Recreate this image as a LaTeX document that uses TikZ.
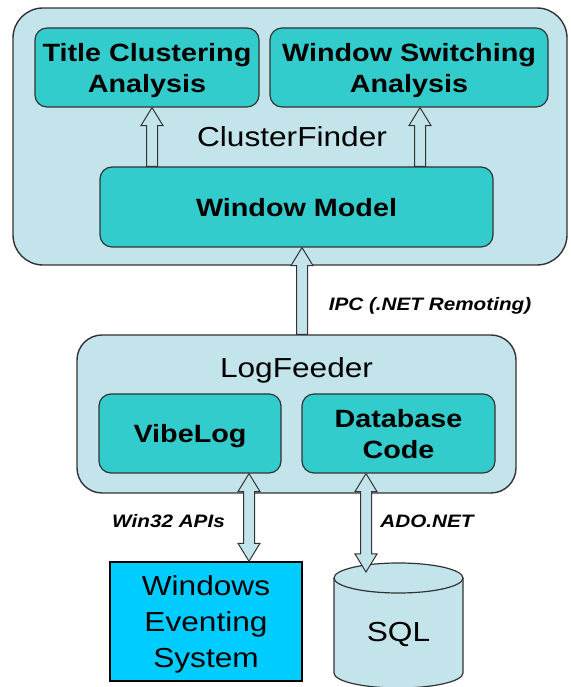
\documentclass[tikz,border=0pt]{standalone}
\usepackage{fontspec}
\setmainfont{Liberation Sans}[FakeStretch=1.15]
\usetikzlibrary{calc}

\definecolor{paleblue}{HTML}{C2E4EA}
\definecolor{tealbox}{HTML}{33CCCC}
\definecolor{skyblue}{HTML}{00CCFF}
\definecolor{edgegray}{HTML}{333333}

\tikzset{
  outerbox/.style={draw=edgegray, line width=1.4pt, fill=paleblue, inner sep=0pt},
  innerbox/.style={draw=edgegray, line width=1.2pt, fill=tealbox, rounded corners=12pt, inner sep=0pt,
    text depth=0pt, align=center, font=\fontsize{25}{31}\selectfont\bfseries},
  biglabel/.style={font=\fontsize{27.5}{36}\selectfont, align=center, inner sep=0pt},
  linklabel/.style={font=\fontsize{18}{22}\selectfont\bfseries\itshape, inner sep=0pt},
  blockarrow/.style={draw=edgegray, line width=1pt, fill=paleblue},
}

% block arrow pointing up: #1 x position, #2 lower anchor, #3 upper anchor
\newcommand{\arrowup}[3]{%
  \path[blockarrow] let \p1=(#2), \p2=(#3) in
    (#1pt-5.5pt,\y1) -- (#1pt-5.5pt,\y2-18pt) -- (#1pt-11pt,\y2-18pt) -- (#1pt,\y2)
    -- (#1pt+11pt,\y2-18pt) -- (#1pt+5.5pt,\y2-18pt) -- (#1pt+5.5pt,\y1) -- cycle;}

% block arrow with two heads: #1 x position, #2 lower anchor, #3 upper anchor
\newcommand{\arrowboth}[3]{%
  \path[blockarrow] let \p1=(#2), \p2=(#3) in
    (#1pt,\y1) -- (#1pt+11pt,\y1+18pt) -- (#1pt+5.5pt,\y1+18pt) -- (#1pt+5.5pt,\y2-18pt)
    -- (#1pt+11pt,\y2-18pt) -- (#1pt,\y2) -- (#1pt-11pt,\y2-18pt) -- (#1pt-5.5pt,\y2-18pt)
    -- (#1pt-5.5pt,\y1+18pt) -- (#1pt-11pt,\y1+18pt) -- cycle;}

\begin{document}
\begin{tikzpicture}[x=1pt, y=1pt]
    \useasboundingbox (0,0) rectangle (570,687);

    % ClusterFinder process
    \node[outerbox, rounded corners=30pt, minimum width=554, minimum height=257] (cf) at (290,550.5) {};
    \node[innerbox, minimum width=224, minimum height=79] (tca) at (147,619.5) {Title Clustering\\Analysis};
    \node[innerbox, minimum width=278, minimum height=79] (wsa) at (409,619.5) {Window Switching\\Analysis};
    \node[innerbox, minimum width=393, minimum height=80] (wm) at (296.5,480) {Window Model};
    \node[biglabel, anchor=base] (cflabel) at (292,540) {ClusterFinder};

    % LogFeeder process
    \node[outerbox, rounded corners=25pt, minimum width=439, minimum height=158] (lf) at (296.5,273) {};
    \node[innerbox, minimum width=182, minimum height=79] (vl) at (190,253.5) {VibeLog};
    \node[innerbox, minimum width=193, minimum height=79] (db) at (398.5,253.5) {Database\\Code};
    \node[biglabel, anchor=base] (lflabel) at (296.5,309) {LogFeeder};

    % Windows and the database
    \node[biglabel, draw=black, line width=1.4pt, fill=skyblue, text depth=0pt, minimum width=192, minimum height=119] (wes) at (206,65.5) {Windows\\Eventing\\System};
    \filldraw[blockarrow, line width=1.2pt] (334,109) -- (334,14) arc[start angle=180, end angle=360, x radius=64.5, y radius=15] -- (463,109);
    \filldraw[blockarrow, line width=1.2pt] (398.5,109) ellipse[x radius=64.5, y radius=15];
    \node[biglabel, anchor=base] (sql) at (398.5,45) {SQL};
    \coordinate (sqltop) at (366,115);

    % Arrows
    \arrowup{152}{wm.north}{tca.south}
    \arrowup{420}{wm.north}{wsa.south}
    \arrowup{302}{lf.north}{wm.south}
    \arrowboth{249}{wes.north}{vl.south}
    \arrowboth{366}{sqltop}{db.south}

    % Link labels
    \node[linklabel, anchor=base] (ipc) at (430,376) {IPC (.NET Remoting)};
    \node[linklabel, anchor=base] (win32) at (168.5,159) {Win32 APIs};
    \node[linklabel, anchor=base] (ado) at (427,159) {ADO.NET};
\end{tikzpicture}
\end{document}
